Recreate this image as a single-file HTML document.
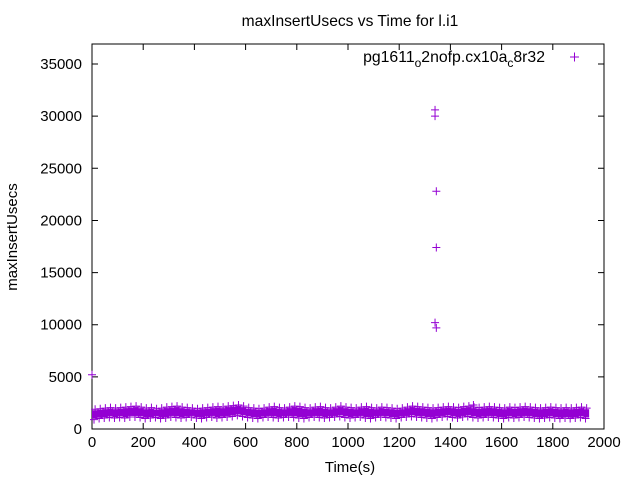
<!DOCTYPE html>
<html><head><meta charset="utf-8"><style>
body{margin:0;background:#fff}
svg text{font-family:"Liberation Sans",sans-serif;font-size:15px;fill:#000}
</style></head><body>
<svg width="640" height="480" xmlns="http://www.w3.org/2000/svg">
<text x="350" y="26" text-anchor="middle" style="font-size:15.6px">maxInsertUsecs vs Time for l.i1</text>
<rect x="92" y="44" width="512" height="385" fill="none" stroke="#000"/>
<g id="axes"></g>
<g id="marks"></g>
<text x="350" y="472" text-anchor="middle">Time(s)</text>
<text transform="translate(17,237) rotate(-90)" text-anchor="middle">maxInsertUsecs</text>
<text x="545" y="62" text-anchor="end" style="font-size:15.8px">pg1611<tspan dy="5" font-size="12">o</tspan><tspan dy="-5">2nofp.cx10a</tspan><tspan dy="5" font-size="12">c</tspan><tspan dy="-5">8r32</tspan></text>
<path d="M570 57h9M574.5 52.5v9" stroke="#9400d3"/>
</svg>
<script>
const xTicks=[0,200,400,600,800,1000,1200,1400,1600,1800,2000];
const yTicks=[0,5000,10000,15000,20000,25000,30000,35000];
const binStart=[0,20,40,60,80,100,120,140,160,180,200,220,240,260,280,300,320,340,360,380,400,420,440,460,480,500,520,540,560,580,600,620,640,660,680,700,720,740,760,780,800,820,840,860,880,900,920,940,960,980,1000,1020,1040,1060,1080,1100,1120,1140,1160,1180,1200,1220,1240,1260,1280,1300,1320,1340,1360,1380,1400,1420,1440,1460,1480,1500,1520,1540,1560,1580,1600,1620,1640,1660,1680,1700,1720,1740,1760,1780,1800,1820,1840,1860,1880,1900,1920];
const binLo=[1000,1100,1150,1200,1150,1200,1150,1250,1250,1200,1100,1150,1200,1100,1150,1250,1200,1150,1200,1250,1150,1100,1200,1250,1150,1200,1250,1300,1400,1300,1200,1150,1100,1200,1250,1200,1150,1200,1250,1200,1150,1100,1200,1250,1200,1150,1200,1250,1300,1200,1150,1200,1250,1150,1100,1200,1250,1200,1150,1100,1200,1250,1300,1250,1200,1150,1100,1200,1250,1300,1200,1150,1250,1300,1200,1150,1200,1250,1200,1150,1100,1200,1150,1200,1250,1200,1150,1100,1150,1200,1150,1100,1150,1100,1150,1200,1100];
const binHi=[1800,1850,1900,1950,1900,1950,2000,2050,2100,2000,1900,1950,1850,1900,2000,2050,2100,2000,1950,1900,1850,1900,1950,2000,2050,2000,2100,2150,2200,2100,1950,1900,1850,1900,2000,2050,1950,1900,2000,2100,2050,1950,1900,2000,2050,1950,1900,2000,2100,2000,1950,1900,2000,2050,1950,1900,2000,1950,1900,1850,1900,2000,2100,2050,2000,1950,1900,1950,2000,2050,2000,1950,2050,2100,2000,1950,2000,2050,2000,1950,1900,2000,1950,2000,2050,2000,1950,1900,1950,2000,1950,1900,1950,1900,1950,2000,1900];
const outX=[0,1340,1340,1345,1345,1340,1345,1490];
const outY=[5200,30600,30000,22800,17400,10200,9700,2300];
const NS='http://www.w3.org/2000/svg';
const sx=t=>92+t/2000*512;
const sy=v=>429-v/5000*52.14;
const axes=document.getElementById('axes'),marks=document.getElementById('marks');
function mk(tag,attrs,parent){const e=document.createElementNS(NS,tag);for(const k in attrs)e.setAttribute(k,attrs[k]);parent.appendChild(e);return e;}
xTicks.forEach(t=>{
 const p=mk('path',{d:`M${sx(t)} 429v-6M${sx(t)} 44v6`,stroke:'#000'},axes);
 
 
 const l=mk('text',{x:sx(t),y:447,'text-anchor':'middle'},axes);l.textContent=t;
 
 
});
yTicks.forEach(v=>{
 const p=mk('path',{d:`M92 ${sy(v)}h6M604 ${sy(v)}h-6`,stroke:'#000'},axes);
 
 
 const l=mk('text',{x:82,y:sy(v)+5,'text-anchor':'end'},axes);l.textContent=v;
 
 
});
function plus(x,y,name){
 const p=mk('path',{d:`M${x-4} ${y}h8M${x} ${y-4}v8`,stroke:'#9400d3','stroke-width':1},marks);
 
 
}
binStart.forEach((t,i)=>{
 const x0=sx(t),x1=sx(t+20);
 const r=mk('rect',{x:x0,y:sy(binHi[i]),width:x1-x0+0.5,height:sy(binLo[i])-sy(binHi[i]),fill:'#9400d3'},marks);
 
 
 plus(x0+2,sy(binLo[i])+1,'data-point');
 plus(x1-2,sy(binHi[i])-1,'data-point');
});
outX.forEach((t,i)=>plus(sx(t),sy(outY[i]),'outlier-point'));
</script>
</body></html>
